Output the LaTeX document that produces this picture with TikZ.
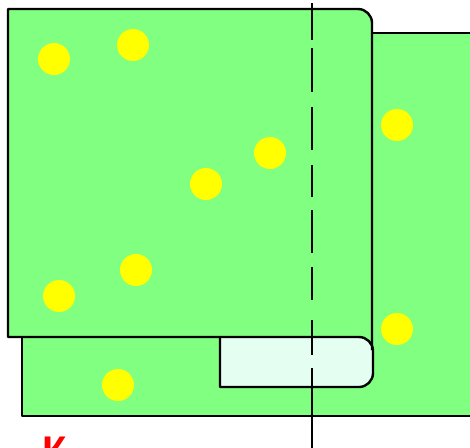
\documentclass[tikz,border=0pt]{standalone}
\usepackage{fontspec}
\newfontfamily\labelfont{Liberation Sans}
\definecolor{sheetgreen}{RGB}{128,255,128}
\definecolor{palemint}{RGB}{228,255,242}
\definecolor{dotyellow}{RGB}{255,255,0}
\begin{document}
\begin{tikzpicture}[x=1pt,y=-1pt,
  edge/.style={draw=black, line width=2.4pt, line join=round},
  sheet/.style={fill=sheetgreen},
  dot/.style={circle, fill=dotyellow, minimum size=32pt, inner sep=0pt},
  foldline/.style={draw=black, line width=2.4pt,
    dash pattern=on 37pt off 8pt on 44pt off 15pt on 43pt off 15pt on 32pt off 13pt on 43pt off 14pt on 33pt off 20pt on 35pt off 13pt on 90pt}]
\useasboundingbox (0,0) rectangle (470,447);
\fill[white] (0,0) rectangle (470,447);
% back sheet
\path[sheet] (22,33) rectangle (490,416);
\draw[edge] (22,337) -- (22,416) -- (490,416);
\draw[edge] (372,33) -- (490,33);
% front sheet
\path[sheet] (8,9) -- (358,9) arc[start angle=-90, end angle=0, radius=14] -- (372,337) -- (8,337) -- cycle;
% pale flap
\path[fill=palemint] (220,337) -- (359,337) arc[start angle=-90, end angle=0, radius=14] -- (373,373) arc[start angle=0, end angle=90, radius=14] -- (220,387) -- cycle;
\draw[edge] (372,350) -- (372,23) arc[start angle=0, end angle=-90, radius=14] -- (8,9) -- (8,337) -- (359,337);
\draw[edge] (220,337) -- (220,387) -- (359,387) arc[start angle=90, end angle=0, radius=14] -- (373,351) arc[start angle=0, end angle=-90, radius=14];
% dots
\node[dot] (d1) at (54,59) {};
\node[dot] (d2) at (133,45) {};
\node[dot] (d3) at (270,153) {};
\node[dot] (d4) at (206,184) {};
\node[dot] (d5) at (397,125) {};
\node[dot] (d6) at (136,270) {};
\node[dot] (d7) at (59,296) {};
\node[dot] (d8) at (397,329) {};
\node[dot] (d9) at (118,385) {};
% fold line
\coordinate (ftop) at (312,3);
\coordinate (fbot) at (312,460);
\draw[foldline] (ftop) -- (fbot);
% label
\node[anchor=north west, inner sep=0pt, text=red, font=\labelfont\bfseries\fontsize{40}{40}\selectfont] (lbl) at (42,437) {К};
\end{tikzpicture}
\end{document}
